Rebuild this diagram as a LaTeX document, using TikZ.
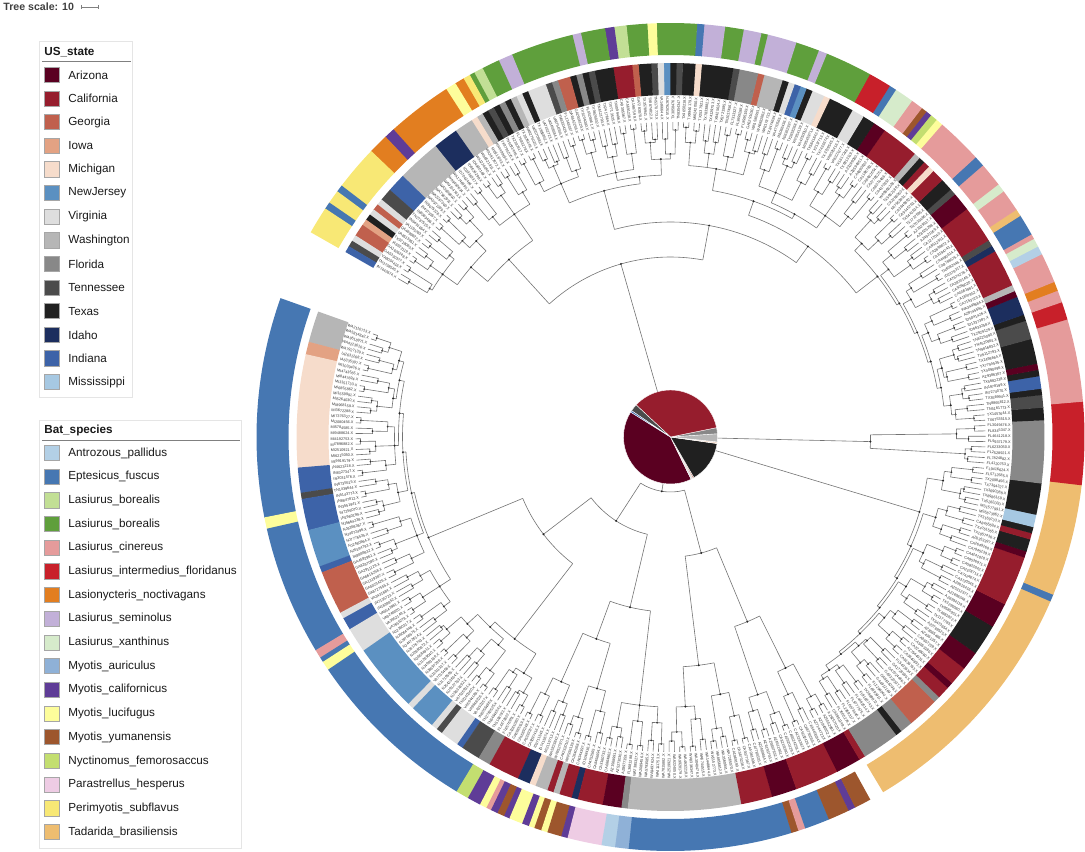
\documentclass[tikz,border=0pt]{standalone}
\usepackage{fontspec}
\setmainfont{Liberation Sans}
\definecolor{stAZ}{HTML}{5A0021}
\definecolor{stCA}{HTML}{961D2D}
\definecolor{stGA}{HTML}{C0604D}
\definecolor{stIA}{HTML}{E3A283}
\definecolor{stMI}{HTML}{F6DCCB}
\definecolor{stNJ}{HTML}{5B90C1}
\definecolor{stVA}{HTML}{DEDEDE}
\definecolor{stWA}{HTML}{B6B6B6}
\definecolor{stFL}{HTML}{888888}
\definecolor{stTN}{HTML}{4B4B4B}
\definecolor{stTX}{HTML}{202020}
\definecolor{stID}{HTML}{1C2E5E}
\definecolor{stIN}{HTML}{3D63A8}
\definecolor{stMS}{HTML}{A6C8E2}
\definecolor{sAp}{HTML}{B3D0E6}
\definecolor{sEf}{HTML}{4677B2}
\definecolor{sLbl}{HTML}{C2DF95}
\definecolor{sLbd}{HTML}{5F9F3C}
\definecolor{sLc}{HTML}{E59B9B}
\definecolor{sLi}{HTML}{C8202A}
\definecolor{sLn}{HTML}{E27E20}
\definecolor{sLs}{HTML}{C2B0D8}
\definecolor{sLx}{HTML}{D6EBCB}
\definecolor{sMa}{HTML}{8FB1D7}
\definecolor{sMc}{HTML}{5F3C97}
\definecolor{sMl}{HTML}{FDFD9B}
\definecolor{sMy}{HTML}{9D562D}
\definecolor{sNf}{HTML}{C3DE70}
\definecolor{sPh}{HTML}{EECCE4}
\definecolor{sPe}{HTML}{F8E875}
\definecolor{sTb}{HTML}{EEBD70}
\pgfmathdeclarefunction{pairr}{1}{\pgfmathparse{310-3*mod(mod(#1,23)*mod(#1,23)+7*#1,5)}}
\pgfmathdeclarefunction{quadr}{1}{\pgfmathparse{295-3*mod(#1*#1+2*#1,5)}}
\newcount\tipno
\newcommand\ringseg[5]{\fill[#5] (#3:#1) arc[start angle=#3,end angle=#4,radius=#1]
  -- (#4:#2) arc[start angle=#4,end angle=#3,radius=#2] -- cycle;}
\newcommand\grp[4]{%
  \pgfmathsetmacro\grpA{162.348+3.88776*#1}
  \pgfmathsetmacro\grpB{162.348+3.88776*#2}
  \pgfmathsetmacro\grpM{(\grpA+\grpB)/2}
  \draw[branch] (\grpM:#4) -- (\grpM:#3);
  \draw[branch] (\grpA:#3) arc[start angle=\grpA,end angle=\grpB,radius=#3];
  \foreach \m in {#1,...,#2}{
    \pgfmathsetmacro\qa{162.348+3.88776*\m}
    \pgfmathsetmacro\qr{quadr(\m)}
    \draw[branch] (\qa:#3) -- (\qa:\qr);
  }
  \fill[nodedot] (\grpM:#3) circle[radius=1.1];}
\newcommand\cld[4]{%
  \pgfmathsetmacro\cldM{(#1+#2)/2}
  \draw[branch] (#1:#3) arc[start angle=#1,end angle=#2,radius=#3];
  \draw[branch] (\cldM:#4) -- (\cldM:#3);
  \fill[nodedot] (\cldM:#3) circle[radius=1.1];}
\begin{document}
\begin{tikzpicture}[x=0.5pt,y=0.5pt,
  branch/.style={draw=black!55,line width=0.3pt},
  nodedot/.style={fill=black!85},
  tiplabel/.style={font=\fontsize{1.9}{2}\selectfont,inner sep=0pt,text=black!80},
  legbox/.style={draw=black!10,line width=0.5pt},
  legtitle/.style={font=\bfseries\fontsize{5.85}{7}\selectfont,anchor=west,inner sep=0pt,text=black!90},
  legtext/.style={font=\fontsize{5.85}{7}\selectfont,anchor=west,inner sep=0pt,text=black!90},
  swatch/.style={draw=black!35,line width=0.4pt,minimum width=7.6pt,minimum height=7.6pt,inner sep=0pt}]
\useasboundingbox (-670.5,-414) rectangle (414.5,437);

\foreach \k in {0,...,179}{
  \pgfmathsetmacro\ta{160.89+1.94388*\k}
  \pgfmathsetmacro\tb{\ta+0.97194}
  \pgfmathsetmacro\ra{pairr(\k)}
  \draw[branch] (\ta:315) -- (\ta:\ra) arc[start angle=\ta,end angle=\tb,radius=\ra] -- (\tb:315);
  \fill[nodedot] (\ta+0.486:\ra) circle[radius=1];
}
\foreach \m in {0,...,89}{
  \pgfmathsetmacro\pa{161.376+3.88776*\m}
  \pgfmathsetmacro\pb{\pa+1.94388}
  \pgfmathsetmacro\rb{quadr(\m)}
  \pgfmathsetmacro\rpa{pairr(2*\m)}
  \pgfmathsetmacro\rpb{pairr(2*\m+1)}
  \draw[branch] (\pa:\rpa) -- (\pa:\rb) arc[start angle=\pa,end angle=\pb,radius=\rb] -- (\pb:\rpb);
  \fill[nodedot] (\pa+0.972:\rb) circle[radius=1];
}

\grp{0}{1}{282}{277}
\grp{2}{3}{280}{277}
\grp{4}{6}{276}{272}
\grp{7}{8}{278}{268}
\grp{9}{11}{272}{265}
\grp{12}{14}{275}{262}
\cld{164.292}{172.068}{277}{272}
\cld{168.18}{181.787}{272}{268}
\cld{174.98}{191.506}{268}{265}
\cld{183.24}{201.226}{265}{262}
\cld{192.23}{212.889}{262}{160}
\grp{15}{16}{276}{262}
\grp{17}{18}{270}{262}
\grp{19}{20}{278}{255}
\cld{222.608}{230.384}{262}{255}
\cld{226.496}{238.159}{255}{160}
\cld{202.56}{232.33}{160}{100}
\grp{21}{22}{268}{215}
\grp{23}{24}{262}{215}
\grp{25}{27}{270}{175}
\cld{245.935}{253.71}{215}{175}
\cld{249.82}{263.43}{175}{100}
\cld{217.445}{256.625}{100}{55}
\grp{28}{29}{270}{230}
\grp{30}{31}{262}{230}
\grp{32}{33}{272}{200}
\grp{34}{35}{258}{200}
\cld{273.149}{280.925}{230}{120}
\cld{288.70}{296.476}{200}{120}
\cld{277.037}{292.588}{120}{55}
\cld{237.035}{284.81}{55}{0}
\grp{36}{37}{282}{276}
\grp{38}{39}{281}{276}
\grp{40}{41}{280}{273}
\grp{42}{43}{279}{270}
\grp{44}{45}{278}{267}
\grp{46}{47}{277}{264}
\grp{48}{49}{276}{260}
\cld{304.251}{312.027}{276}{273}
\cld{308.139}{319.802}{273}{270}
\cld{313.97}{327.578}{270}{267}
\cld{320.774}{335.353}{267}{264}
\cld{328.064}{343.129}{264}{260}
\cld{335.597}{350.904}{260}{0}
\grp{50}{51}{200}{0}
\grp{52}{53}{282}{275}
\grp{54}{55}{280}{275}
\grp{56}{57}{278}{271}
\grp{58}{59}{277}{268}
\grp{60}{61}{275}{265}
\grp{62}{63}{272}{262}
\cld{366.456}{374.231}{275}{271}
\cld{370.344}{382.007}{271}{268}
\cld{376.176}{389.782}{268}{265}
\cld{382.979}{397.558}{265}{262}
\cld{390.269}{405.333}{262}{235}
\grp{64}{66}{270}{255}
\grp{67}{69}{266}{255}
\grp{70}{73}{272}{250}
\cld{415.053}{426.716}{255}{250}
\cld{420.885}{440.323}{250}{235}
\cld{397.801}{430.604}{235}{215}
\grp{74}{75}{278}{262}
\grp{76}{78}{270}{262}
\grp{79}{81}{276}{255}
\cld{451.986}{461.706}{262}{255}
\cld{456.846}{473.369}{255}{215}
\cld{414.203}{465.108}{215}{180}
\grp{82}{84}{272}{240}
\grp{85}{86}{276}{262}
\grp{87}{89}{280}{262}
\cld{494.752}{504.471}{262}{240}
\cld{485.032}{499.612}{240}{180}
\cld{439.656}{492.322}{180}{0}

\tipno=0
\foreach \n/\s in {5/WA,2/IA,18/MI,4/IN,1/TN,5/IN,6/NJ,1/IN,7/GA,1/VA,2/IN,4/VA,11/NJ,1/VA,4/NJ,1/VA,1/TN,3/VA,1/IN,3/TN,2/FL,5/CA,2/ID,1/MI,2/WA,1/CA,1/WA,2/CA,1/ID,4/CA,3/AZ,1/FL,18/WA,5/CA,4/AZ,7/CA,4/AZ,1/CA,6/FL,1/TX,2/FL,5/GA,1/FL,2/CA,1/AZ,3/CA,3/AZ,5/TX,4/AZ,8/CA,1/AZ,2/TX,1/CA,1/TX,2/MS,5/TX,10/FL,2/TX,2/TN,1/TX,2/IN,1/TX,1/AZ,4/TX,3/TN,1/TX,3/ID,1/AZ,1/WA,6/CA,1/ID,1/TN,6/CA,3/AZ,1/TN,2/TX,2/CA,1/MI,1/CA,1/TX,1/WA,6/CA,2/AZ,2/TX,2/VA,4/TX,1/MI,2/VA,1/TX,1/NJ,1/IN,1/VA,1/TX,3/WA,1/GA,3/FL,1/TN,5/TX,1/MI,2/TX,1/TN,1/TX,1/NJ,1/VA,1/TN,2/TX,1/GA,3/CA,3/TX,1/TN,1/TX,1/FL,1/TX,2/GA,1/FL,1/TN,3/VA,1/TX,1/VA,1/WA,1/TX,1/FL,1/TX,1/TN,1/TX,1/WA,1/MI,3/WA,4/ID,7/WA,3/IN,2/TN,1/VA,1/GA,1/VA,1/TX,1/IA,2/GA,1/VA,1/TN,1/IN}{
  \pgfmathsetmacro\sa{160.4+0.97194*\the\tipno}
  \pgfmathsetmacro\sb{160.4+0.97194*(\the\tipno+\n)+0.06}
  \ringseg{342}{374}{\sa}{\sb}{st\s}
  \foreach \k in {1,...,\n}{
    \pgfmathtruncatemacro\ti{\the\tipno+\k-1}
    \pgfmathsetmacro\ta{160.89+0.97194*\ti}
    \pgfmathtruncatemacro\da{mod(\ti*37+11,90)+10}
    \pgfmathtruncatemacro\db{mod(\ti*41+7,900)+100}
    \pgfmathtruncatemacro\dc{mod(\ti*29+3,90)+10}
    \pgfmathtruncatemacro\side{(\ta>270)&&(\ta<450)}
    \ifnum\side=1
      \node[tiplabel,anchor=west,rotate=\ta] (tip\ti) at (\ta:317) {\s\da\db\dc.X};
    \else
      \node[tiplabel,anchor=east,rotate=\ta-180] (tip\ti) at (\ta:317) {\s\da\db\dc.X};
    \fi
  }
  \global\advance\tipno by \n
}

\foreach \a/\b/\c in {160.4/191.2/sEf,191.2/192.8/sMl,192.8/211/sEf,211/212.2/sLc,212.2/212.9/sEf,212.9/214.2/sMl,214.2/238.9/sEf,238.9/240.7/sNf,240.7/242.6/sMc,242.6/243.6/sMl,243.6/244.3/sLc,244.3/245.3/sMc,245.3/246.3/sMy,246.3/247.1/sMc,247.1/249/sMl,249/250/sMc,250/250.8/sMl,250.8/251.8/sMy,251.8/252.7/sMl,252.7/254.7/sMy,254.7/255.6/sMc,255.6/260.4/sPh,260.4/262.3/sAp,262.3/264.2/sMa,264.2/287/sEf,287/288/sMy,288/289/sLc,289/292.5/sEf,292.5/295.5/sMy,295.5/296.5/sMc,296.5/298.8/sMy,300.9/336.6/sTb,336.6/337.6/sEf,337.6/353.3/sTb,353.3/364.9/sLi,364.9/376.5/sLc,376.5/379/sLi,379/380.7/sLc,380.7/382/sLn,382/386.2/sLc,386.2/387.4/sAp,387.4/388.6/sLx,388.6/389.3/sLc,389.3/392.3/sEf,392.3/393.3/sTb,393.3/396.4/sLc,396.4/397.6/sLx,397.6/401/sLc,401/402.5/sEf,402.5/409/sLc,409/410/sMl,410/411/sNf,411/411.8/sMc,411.8/412.6/sMy,412.6/414.3/sLc,414.3/417/sLx,417/418/sEf,418/421.2/sLi,421.2/427.8/sLbd,427.8/429/sLs,429/432.3/sLbd,432.3/436.4/sLs,436.4/437.3/sLbd,437.3/439.8/sLs,439.8/442.4/sLbd,442.4/445.3/sLs,445.3/446.3/sEf,446.3/451.9/sLbd,451.9/453.2/sMl,453.2/456.1/sLbd,456.1/457.8/sLbl,457.8/459.1/sMc,459.1/462.5/sLbd,462.5/463.7/sLs,463.7/472.5/sLbd,472.5/474.5/sLs,474.5/477/sLbd,477/478.3/sLbl,478.3/479/sLbd,479/480/sPe,480/481.3/sLn,481.3/482.8/sMl,482.8/492/sLn,492/493.5/sMc,493.5/496.3/sLn,496.3/502.6/sPe,502.6/503.6/sEf,503.6/505.5/sPe,505.5/506.5/sEf,506.5/510.3/sPe}{
  \pgfmathsetmacro\sb{\b+0.06}
  \ringseg{382}{414}{\a}{\sb}{\c}
}

\foreach \a/\b/\c in {148/296/stAZ,296/298.5/stVA,298.5/300/stGA,300/352/stTX,352/354/stMI,354/364/stWA,4/11.5/stFL,11.5/137/stCA,137/146/stTN,146/148/stIN}{
  \fill[\c,draw=white,line width=0.2pt] (0,0) -- (\a:47) arc[start angle=\a,end angle=\b,radius=47] -- cycle;
}

\begin{scope}[shift={(-670.5,437)},yscale=-1]
\node[font=\bfseries\fontsize{5.3}{6}\selectfont,text=black!75,anchor=west,inner sep=0pt] (scale) at (3,7) {Tree scale: 10};
\draw[black!50,line width=0.4pt] (81,7) -- (98,7) (81,5) -- (81,9) (98,5) -- (98,9);
\draw[legbox] (40,42) rectangle (133,397);
\node[legtitle] (sttitle) at (44,52) {US\_state};
\draw[black!50,line width=0.5pt] (42,62) -- (131,62);
\foreach \c/\t [count=\i from 0] in {stAZ/Arizona,stCA/California,stGA/Georgia,stIA/Iowa,stMI/Michigan,stNJ/NewJersey,stVA/Virginia,stWA/Washington,stFL/Florida,stTN/Tennessee,stTX/Texas,stID/Idaho,stIN/Indiana,stMS/Mississippi}{
  \node[swatch,fill=\c] (stbox\i) at (52,75+23.62*\i) {};
  \node[legtext] (st\i) at (68,75+23.62*\i) {\t};
}
\draw[legbox] (40,420) rectangle (242,848);
\node[legtitle] (sptitle) at (44,430) {Bat\_species};
\draw[black!50,line width=0.5pt] (42,440) -- (240,440);
\foreach \c/\t [count=\i from 0] in {sAp/Antrozous\_pallidus,sEf/Eptesicus\_fuscus,sLbl/Lasiurus\_borealis,sLbd/Lasiurus\_borealis,sLc/Lasiurus\_cinereus,sLi/Lasiurus\_intermedius\_floridanus,sLn/Lasionycteris\_noctivagans,sLs/Lasiurus\_seminolus,sLx/Lasiurus\_xanthinus,sMa/Myotis\_auriculus,sMc/Myotis\_californicus,sMl/Myotis\_lucifugus,sMy/Myotis\_yumanensis,sNf/Nyctinomus\_femorosaccus,sPh/Parastrellus\_hesperus,sPe/Perimyotis\_subflavus,sTb/Tadarida\_brasiliensis}{
  \node[swatch,fill=\c] (spbox\i) at (52,453+23.69*\i) {};
  \node[legtext] (sp\i) at (68,453+23.69*\i) {\t};
}
\end{scope}
\end{tikzpicture}
\end{document}
